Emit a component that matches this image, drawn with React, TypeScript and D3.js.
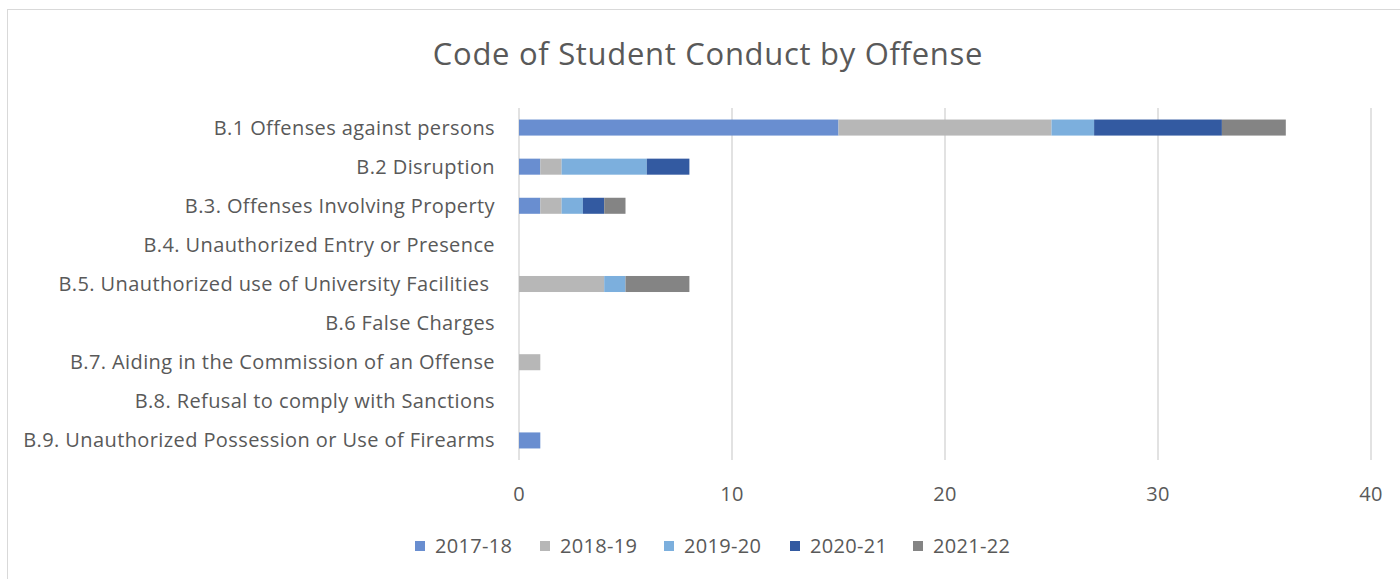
import React from "react";
import * as d3 from "d3";

const categories = [
  "B.1 Offenses against persons",
  "B.2 Disruption",
  "B.3. Offenses Involving Property",
  "B.4. Unauthorized Entry or Presence",
  "B.5. Unauthorized use of University Facilities ",
  "B.6 False Charges",
  "B.7. Aiding in the Commission of an Offense",
  "B.8. Refusal to comply with Sanctions",
  "B.9. Unauthorized Possession or Use of Firearms",
];
const seriesNames = ["2017-18", "2018-19", "2019-20", "2020-21", "2021-22"];
const v2017 = [15, 1, 1, 0, 0, 0, 0, 0, 1];
const v2018 = [10, 1, 1, 0, 4, 0, 1, 0, 0];
const v2019 = [2, 4, 1, 0, 1, 0, 0, 0, 0];
const v2020 = [6, 2, 1, 0, 0, 0, 0, 0, 0];
const v2021 = [3, 0, 1, 0, 3, 0, 0, 0, 0];
const xTicks = [0, 10, 20, 30, 40];
const colors = ["#698ED0", "#B7B7B7", "#7CAFDD", "#335AA1", "#848484"];

const W = 1400, H = 579;
const font = "'Open Sans', sans-serif";
const textColor = "#595959";

export default function App() {
  const seriesVals = [v2017, v2018, v2019, v2020, v2021];
  const rows = categories.map((c, i) => {
    const o: any = { cat: c };
    seriesNames.forEach((s, j) => (o[s] = seriesVals[j][i]));
    return o;
  });
  const stacked = d3.stack().keys(seriesNames)(rows);
  const x = d3.scaleLinear().domain([0, 40]).range([519, 1371]);
  const y = d3.scaleBand().domain(categories).range([108, 460]).paddingInner(0.59).paddingOuter(0.295);
  const legendX = [415, 540, 664, 790, 913];

  return (
    <svg width={W} height={H} style={{ position: "absolute", left: 0, top: 0, background: "#fff" }}>
      <rect x={7.5} y={9.5} width={1400} height={600} fill="#fff" stroke="#D9D9D9" strokeWidth={1} />
      <text x={708} y={65} textAnchor="middle" fontFamily={font} fontSize={31} letterSpacing={0.7} fill={textColor}>
        Code of Student Conduct by Offense
      </text>
      {xTicks.map((t) => (
        <line key={t} x1={x(t)} x2={x(t)} y1={108} y2={460} stroke="#D9D9D9" strokeWidth={1.5} />
      ))}
      {stacked.map((s, j) => (
        <g key={s.key} fill={colors[j]}>
          {s.map((d, i) =>
            d[1] - d[0] > 0 ? (
              <rect key={i} x={x(d[0])} y={y(categories[i])!} width={x(d[1]) - x(d[0])} height={y.bandwidth()} />
            ) : null
          )}
        </g>
      ))}
      {categories.map((c) => (
        <text key={c} x={495} y={y(c)! + y.bandwidth() / 2} dy="0.35em" textAnchor="end" fontFamily={font} fontSize={20} letterSpacing={0.4} fill={textColor} style={{ whiteSpace: "pre" }}>
          {c}
        </text>
      ))}
      {xTicks.map((t) => (
        <text key={t} x={x(t)} y={501} textAnchor="middle" fontFamily={font} fontSize={20} letterSpacing={0.3} fill={textColor}>
          {t}
        </text>
      ))}
      {seriesNames.map((s, j) => {
        const lx = legendX[j];
        return (
          <g key={s}>
            <rect x={lx} y={541} width={10} height={10} fill={colors[j]} />
            <text x={lx + 20} y={553} fontFamily={font} fontSize={20} letterSpacing={0.3} fill={textColor}>
              {s}
            </text>
          </g>
        );
      })}
    </svg>
  );
}
